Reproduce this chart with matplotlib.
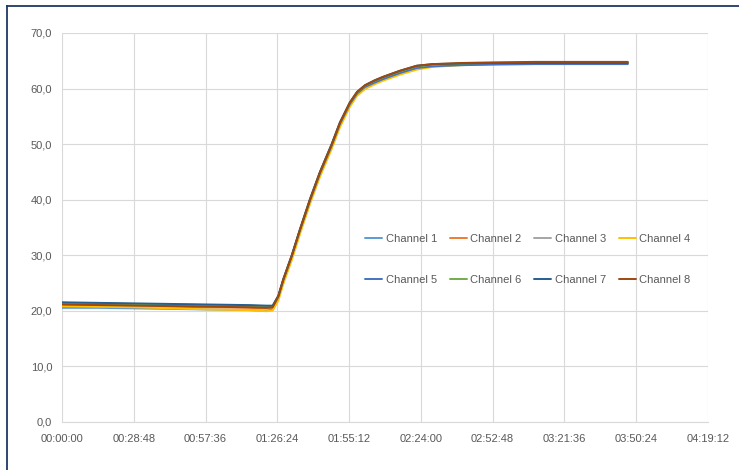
import matplotlib
matplotlib.use("Agg")
import matplotlib.pyplot as plt
from matplotlib.ticker import FuncFormatter, MultipleLocator
from matplotlib.lines import Line2D

# time in minutes
t_min = [0, 15, 30, 45, 60, 75, 82, 84.5, 86.8, 88.8, 92.2, 95.5, 99.5, 103.5, 108.2, 111.5,
         115.5, 118.4, 121.6, 125.6, 128.8, 135.6, 142.3, 148.8, 160, 171.7, 190, 210, 227]

ch1 = [20.5, 20.5, 20.4, 20.3, 20.2, 20.1, 20.0, 20.2, 22.3, 25.3, 29.6, 34.3, 39.7, 44.6, 49.6, 53.5,
       57.1, 59.0, 60.2, 61.1, 61.7, 62.8, 63.7, 64.1, 64.3, 64.4, 64.5, 64.5, 64.5]
ch2 = [21.0, 20.9, 20.8, 20.7, 20.6, 20.5, 20.4, 20.5, 22.4, 25.4, 29.7, 34.4, 39.8, 44.7, 49.7, 53.6,
       57.2, 59.1, 60.3, 61.2, 61.8, 62.9, 63.8, 64.2, 64.4, 64.5, 64.6, 64.6, 64.6]
ch3 = [21.2, 21.1, 21.0, 20.9, 20.8, 20.7, 20.6, 20.6, 22.5, 25.5, 29.8, 34.5, 39.9, 44.8, 49.8, 53.7,
       57.3, 59.2, 60.4, 61.3, 61.9, 63.0, 63.9, 64.2, 64.4, 64.5, 64.6, 64.7, 64.7]
ch4 = [20.8, 20.7, 20.6, 20.4, 20.2, 20.1, 19.9, 20.0, 21.8, 24.8, 29.1, 33.8, 39.2, 44.1, 49.1, 53.0,
       56.7, 58.7, 59.9, 60.8, 61.4, 62.5, 63.4, 63.9, 64.2, 64.4, 64.6, 64.7, 64.7]
ch5 = [21.3, 21.2, 21.1, 21.0, 20.9, 20.8, 20.7, 20.7, 22.5, 25.5, 29.8, 34.5, 39.8, 44.7, 49.7, 53.6,
       57.2, 59.1, 60.3, 61.1, 61.7, 62.8, 63.7, 64.0, 64.2, 64.3, 64.4, 64.4, 64.4]
ch6 = [21.4, 21.3, 21.2, 21.1, 21.0, 20.9, 20.8, 20.8, 22.6, 25.6, 29.9, 34.6, 40.0, 44.9, 49.9, 53.8,
       57.4, 59.3, 60.5, 61.4, 62.0, 63.1, 64.0, 64.3, 64.5, 64.6, 64.7, 64.7, 64.7]
ch7 = [21.5, 21.4, 21.3, 21.2, 21.1, 21.0, 20.9, 20.9, 22.7, 25.7, 30.0, 34.7, 40.1, 45.0, 50.0, 53.9,
       57.5, 59.4, 60.6, 61.5, 62.1, 63.2, 64.1, 64.4, 64.5, 64.6, 64.6, 64.6, 64.6]
ch8 = [21.1, 21.0, 20.9, 20.8, 20.7, 20.6, 20.5, 20.6, 22.6, 25.6, 29.9, 34.6, 40.0, 44.9, 49.9, 53.8,
       57.5, 59.4, 60.6, 61.5, 62.1, 63.2, 64.1, 64.4, 64.6, 64.7, 64.8, 64.8, 64.8]

labels = ["Channel 1", "Channel 2", "Channel 3", "Channel 4",
          "Channel 5", "Channel 6", "Channel 7", "Channel 8"]
series = [ch1, ch2, ch3, ch4, ch5, ch6, ch7, ch8]
colors = ["#5B9BD5", "#ED7D31", "#A5A5A5", "#FFC000",
          "#4472C4", "#70AD47", "#255E91", "#9E480E"]

plt.rcParams['font.family'] = ['Liberation Sans', 'DejaVu Sans']

W, H = 739, 470
fig = plt.figure(figsize=(W / 100, H / 100), dpi=100)
ax = fig.add_axes([62 / W, 1 - 421.7 / H, (708 - 62) / W, (421.7 - 33) / H])

t_sec = [m * 60 for m in t_min]
handles = []
for y, c, lab in zip(series, colors, labels):
    h, = ax.plot(t_sec, y, color=c, lw=1.4, label=lab,
                 solid_joinstyle='round', solid_capstyle='round')
    handles.append(h)

ax.set_xlim(0, 15552)
ax.set_ylim(0, 70)
ax.xaxis.set_major_locator(MultipleLocator(1728))
ax.yaxis.set_major_locator(MultipleLocator(10))


def fmt_time(v, pos):
    s = int(round(v))
    return "%02d:%02d:%02d" % (s // 3600, (s % 3600) // 60, s % 60)


ax.xaxis.set_major_formatter(FuncFormatter(fmt_time))
ax.yaxis.set_major_formatter(FuncFormatter(lambda v, p: ("%.1f" % v).replace('.', ',')))

for s in ax.spines.values():
    s.set_visible(False)
ax.spines['bottom'].set_visible(True)
ax.spines['bottom'].set_color('#D9D9D9')
ax.grid(True, color='#D9D9D9', lw=0.8)
ax.set_axisbelow(True)
ax.tick_params(length=0, labelsize=8, colors='#595959')
ax.tick_params(axis='x', pad=9)
ax.tick_params(axis='y', pad=7)

# row-major legend order (matplotlib fills columns first)
order = [0, 4, 1, 5, 2, 6, 3, 7]
leg = ax.legend([handles[i] for i in order], [labels[i] for i in order],
                ncol=4, loc='center left', bbox_to_anchor=(365 / W, 1 - 259.5 / H),
                bbox_transform=fig.transFigure, frameon=False, fontsize=8,
                handlelength=1.55, handletextpad=0.3, columnspacing=1.15,
                labelspacing=2.75, borderpad=0, borderaxespad=0)
for txt in leg.get_texts():
    txt.set_color('#595959')

# outer border (partially visible)
fig.add_artist(Line2D([7 / W, 7 / W], [0, 1 - 6 / H], color='#203864', lw=1.3))
fig.add_artist(Line2D([7 / W, 1], [1 - 6 / H, 1 - 6 / H], color='#203864', lw=1.3))

fig.savefig("out.png", dpi=100)
